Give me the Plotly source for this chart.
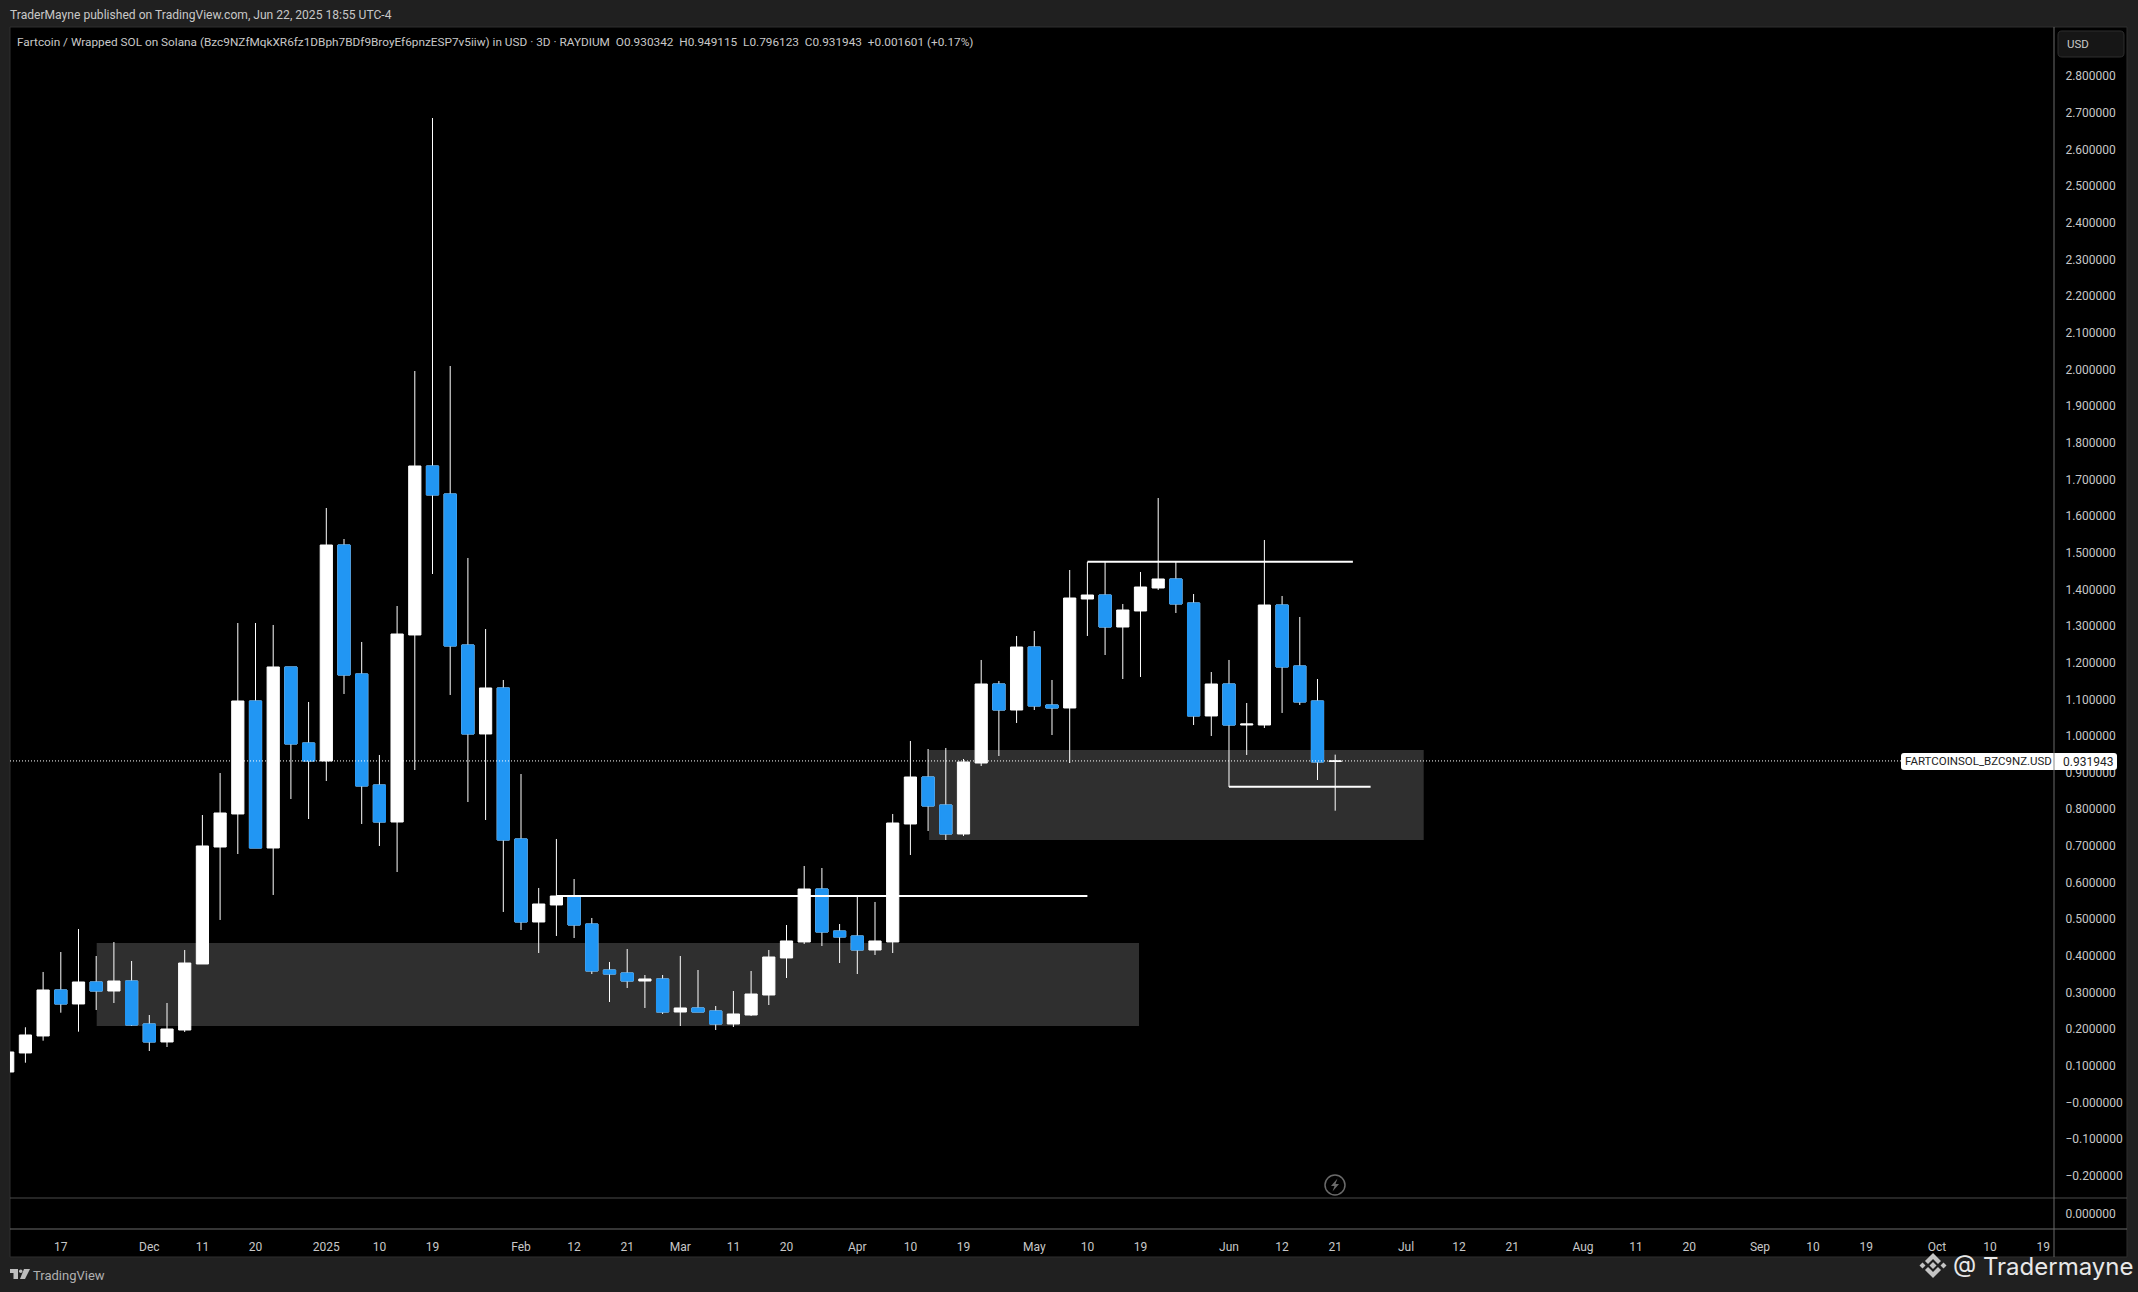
import plotly.graph_objects as go
import pandas as pd

# bars are 3D, first one is cut by the left edge of the pane
dates = pd.date_range("2024-11-08", periods=76, freq="3D")

opens = [0.0832, 0.1351, 0.1815, 0.3070, 0.2688, 0.3288, 0.3042, 0.3315, 0.2142, 0.1651, 0.1978, 0.3779,
         0.6971, 0.7872, 1.0955, 0.6944, 1.1883, 0.9809, 0.9318, 1.5211, 1.1692, 0.8663, 0.7653, 1.2756,
         1.7367, 1.6603, 1.2483, 1.0055, 1.1310, 0.7190, 0.4925, 0.5389, 0.5634, 0.4870, 0.3615, 0.3533,
         0.3315, 0.3370, 0.2469, 0.2579, 0.2497, 0.2142, 0.2387, 0.2933, 0.3943, 0.4379, 0.5825, 0.4679,
         0.4543, 0.4161, 0.4379, 0.7599, 0.8881, 0.8117, 0.7326, 0.9263, 1.1419, 1.0709, 1.2428, 1.0846,
         1.0764, 1.3738, 1.3847, 1.2974, 1.3411, 1.4038, 1.4284, 1.3629, 1.0546, 1.1419, 1.0300, 1.0300,
         1.3574, 1.1910, 1.0955, 0.930342]
highs = [0.1378, 0.2052, 0.3561, 0.4106, 0.4734, 0.3997, 0.4379, 0.3861, 0.2387, 0.2715, 0.4161, 0.7844,
         0.8990, 1.3083, 1.3083, 1.3029, 1.1883, 1.0928, 1.6221, 1.5375, 1.2565, 0.9482, 1.3547, 1.9959,
         2.6862, 2.0095, 1.4857, 1.2919, 1.1528, 0.8963, 0.5853, 0.7190, 0.6098, 0.5034, 0.3834, 0.4188,
         0.3479, 0.3479, 0.3997, 0.3615, 0.2633, 0.3042, 0.3588, 0.4161, 0.4843, 0.6453, 0.6398, 0.4870,
         0.5607, 0.5471, 0.7872, 0.9864, 0.9645, 0.9673, 0.9372, 1.2074, 1.1501, 1.2729, 1.2865, 1.1528,
         1.4529, 1.4748, 1.4748, 1.3602, 1.4475, 1.6494, 1.4748, 1.3874, 1.1746, 1.2074, 1.0900, 1.5348,
         1.3820, 1.3247, 1.1555, 0.949115]
lows = [0.0832, 0.1086, 0.1686, 0.2450, 0.1932, 0.2524, 0.2715, 0.2087, 0.1405, 0.1514, 0.1924, 0.3779,
        0.4980, 0.6780, 0.6944, 0.5662, 0.8281, 0.7735, 0.8772, 1.1146, 0.7599, 0.6999, 0.6289, 0.9072,
        1.4420, 1.1119, 0.8199, 0.7708, 0.5198, 0.4707, 0.4079, 0.4543, 0.4488, 0.3506, 0.2742, 0.3124,
        0.2579, 0.2415, 0.2087, 0.2469, 0.1978, 0.2060, 0.2360, 0.2660, 0.3397, 0.4325, 0.4270, 0.3806,
        0.3506, 0.4025, 0.4079, 0.6753, 0.7408, 0.7162, 0.7272, 0.9181, 0.9454, 1.0355, 1.0709, 1.0027,
        0.9263, 1.2729, 1.2210, 1.1555, 1.1610, 1.3984, 1.3356, 1.0300, 1.0000, 0.8608, 0.9482, 1.0218,
        1.0628, 1.0846, 0.8799, 0.796123]
closes = [0.1378, 0.1842, 0.3070, 0.2688, 0.3288, 0.3042, 0.3315, 0.2115, 0.1651, 0.2005, 0.3806, 0.6999,
          0.7899, 1.0955, 0.6944, 1.1883, 0.9782, 0.9318, 1.5211, 1.1664, 0.8636, 0.7653, 1.2783, 1.7367,
          1.6576, 1.2456, 1.0055, 1.1310, 0.7162, 0.4925, 0.5416, 0.5634, 0.4843, 0.3588, 0.3506, 0.3315,
          0.3370, 0.2469, 0.2579, 0.2469, 0.2142, 0.2415, 0.2960, 0.3970, 0.4407, 0.5825, 0.4652, 0.4516,
          0.4161, 0.4407, 0.7626, 0.8881, 0.8090, 0.7326, 0.9291, 1.1419, 1.0709, 1.2428, 1.0819, 1.0764,
          1.3765, 1.3847, 1.2974, 1.3438, 1.4065, 1.4284, 1.3602, 1.0546, 1.1419, 1.0300, 1.0327, 1.3574,
          1.1883, 1.0928, 0.9291, 0.931943]

price_ticks = [2.8, 2.7, 2.6, 2.5, 2.4, 2.3, 2.2, 2.1, 2.0, 1.9, 1.8, 1.7, 1.6, 1.5, 1.4, 1.3, 1.2, 1.1, 1.0,
               0.9, 0.8, 0.7, 0.6, 0.5, 0.4, 0.3, 0.2, 0.1, 0.0, -0.1, -0.2]
price_labels = ["2.800000", "2.700000", "2.600000", "2.500000", "2.400000", "2.300000", "2.200000", "2.100000",
                "2.000000", "1.900000", "1.800000", "1.700000", "1.600000", "1.500000", "1.400000", "1.300000",
                "1.200000", "1.100000", "1.000000", "0.900000", "0.800000", "0.700000", "0.600000", "0.500000",
                "0.400000", "0.300000", "0.200000", "0.100000", "\u22120.000000", "\u22120.100000", "\u22120.200000"]

time_ticks = ["2024-11-17", "2024-12-02", "2024-12-11", "2024-12-20", "2025-01-01", "2025-01-10", "2025-01-19",
              "2025-02-03", "2025-02-12", "2025-02-21", "2025-03-02", "2025-03-11", "2025-03-20", "2025-04-01",
              "2025-04-10", "2025-04-19", "2025-05-01", "2025-05-10", "2025-05-19", "2025-06-03", "2025-06-12",
              "2025-06-21", "2025-07-03", "2025-07-12", "2025-07-21", "2025-08-02", "2025-08-11", "2025-08-20",
              "2025-09-01", "2025-09-10", "2025-09-19", "2025-10-01", "2025-10-10", "2025-10-19"]
time_labels = ["17", "Dec", "11", "20", "2025", "10", "19", "Feb", "12", "21", "Mar", "11", "20", "Apr", "10", "19",
               "May", "10", "19", "Jun", "12", "21", "Jul", "12", "21", "Aug", "11", "20", "Sep", "10", "19", "Oct",
               "10", "19"]

# supply/demand boxes drawn on the chart: start, end, top, bottom
zone_starts = ["2024-11-23 02:00", "2025-04-13 04:00"]
zone_ends = ["2025-05-18 18:00", "2025-07-06"]
zone_tops = [0.4352, 0.9618]
zone_bottoms = [0.2087, 0.7162]

# white levels: start, end, price
level_starts = ["2025-02-09", "2025-05-10", "2025-06-03"]
level_ends = ["2025-05-10", "2025-06-24", "2025-06-27"]
level_prices = [0.5634, 1.4755, 0.8617]

last_price = 0.931943

W, H = 2138, 1292
BLUE = "#2196f3"
PAPER = "#202020"
TEXT = "#c8c8c8"
FONT = "Roboto"


def fx(px):
    return px / W


def fy(py):
    return 1 - py / H


def poly(points):
    # closed polygon in screen pixels -> paper path
    parts = [f"{fx(x):.5f} {fy(y):.5f}" for x, y in points]
    return "M " + " L ".join(parts) + " Z"


def round_box(x0, y0, x1, y1, r):
    return (f"M {fx(x0 + r):.5f} {fy(y0):.5f} L {fx(x1 - r):.5f} {fy(y0):.5f} "
            f"Q {fx(x1):.5f} {fy(y0):.5f} {fx(x1):.5f} {fy(y0 + r):.5f} L {fx(x1):.5f} {fy(y1 - r):.5f} "
            f"Q {fx(x1):.5f} {fy(y1):.5f} {fx(x1 - r):.5f} {fy(y1):.5f} L {fx(x0 + r):.5f} {fy(y1):.5f} "
            f"Q {fx(x0):.5f} {fy(y1):.5f} {fx(x0):.5f} {fy(y1 - r):.5f} L {fx(x0):.5f} {fy(y0 + r):.5f} "
            f"Q {fx(x0):.5f} {fy(y0):.5f} {fx(x0 + r):.5f} {fy(y0):.5f} Z")


def paper_line(x0, y0, x1, y1, color, width=1):
    return dict(type="line", xref="paper", yref="paper", x0=fx(x0), y0=fy(y0), x1=fx(x1), y1=fy(y1),
                line=dict(color=color, width=width))


def paper_path(path, fill, line_color=None, layer="above"):
    return dict(type="path", xref="paper", yref="paper", path=path, fillcolor=fill, layer=layer,
                line=dict(color=line_color or "rgba(0,0,0,0)", width=1))


def label(x, y, text, size=12, color=TEXT, anchor="left", font=FONT):
    return dict(xref="paper", yref="paper", x=fx(x), y=fy(y), text=text, showarrow=False, xanchor=anchor,
                yanchor="middle", font=dict(family=font, size=size, color=color), borderpad=0, borderwidth=0)


fig = go.Figure()

# all candles in white first (wicks stay white), then the blue bodies of the down bars on top
fig.add_trace(go.Candlestick(
    x=dates, open=opens, high=highs, low=lows, close=closes, whiskerwidth=0,
    increasing=dict(line=dict(color="#ffffff", width=1), fillcolor="#ffffff"),
    decreasing=dict(line=dict(color="#ffffff", width=1), fillcolor="#ffffff"),
    hoverinfo="skip", showlegend=False))

down = [i for i in range(len(dates)) if closes[i] < opens[i]]
fig.add_trace(go.Candlestick(
    x=[dates[i] for i in down],
    open=[opens[i] for i in down], high=[opens[i] for i in down],
    low=[closes[i] for i in down], close=[closes[i] for i in down], whiskerwidth=0,
    increasing=dict(line=dict(color=BLUE, width=1), fillcolor=BLUE),
    decreasing=dict(line=dict(color=BLUE, width=1), fillcolor=BLUE),
    hoverinfo="skip", showlegend=False))

for x0, x1, p in zip(level_starts, level_ends, level_prices):
    fig.add_trace(go.Scatter(x=[x0, x1], y=[p, p], mode="lines", line=dict(color="#ffffff", width=2),
                             hoverinfo="skip", showlegend=False))

# empty lower pane, only carries its own price scale
fig.add_trace(go.Scatter(x=[dates[0]], y=[0], yaxis="y2", mode="lines", hoverinfo="skip", showlegend=False))

shapes = [
    paper_path(poly([(10, 27), (2127, 27), (2127, 1257), (10, 1257)]), "#000000", "#2e2e2e", layer="below"),
]
for x0, x1, top, bottom in zip(zone_starts, zone_ends, zone_tops, zone_bottoms):
    shapes.append(dict(type="rect", xref="x", yref="y", x0=x0, x1=x1, y0=bottom, y1=top, layer="below",
                       fillcolor="#2f2f2f", line=dict(width=0)))

shapes += [
    dict(type="line", xref="paper", yref="y", x0=fx(10), x1=fx(1902), y0=last_price, y1=last_price,
         line=dict(color="#ffffff", width=1, dash="1px,2px")),
    paper_line(10, 1198, 2127, 1198, "#4a4a4a"),
    paper_line(10, 1229, 2127, 1229, "#6a6a6a"),
    paper_line(2054, 27, 2054, 1257, "#6a6a6a"),
    paper_path(round_box(1901, 753, 2117, 770, 3), "#ffffff"),
    paper_line(2054, 753, 2054, 770, "#8a8a8a"),
    paper_path(round_box(2058, 31, 2124, 57, 4), "#161616", "#2e2e2e"),
    # lightning mark
    dict(type="circle", xref="paper", yref="paper", x0=fx(1325), x1=fx(1345), y0=fy(1195), y1=fy(1175),
         line=dict(color="#6a6a6a", width=1.5)),
    paper_path(poly([(1337.5, 1178.5), (1331, 1186), (1334.5, 1186), (1332.5, 1191.5), (1339, 1184),
                     (1335.5, 1184)]), "#6a6a6a"),
    # TradingView logo
    paper_path(poly([(10, 1269), (18, 1269), (18, 1279), (13.5, 1279), (13.5, 1273), (10, 1273)]), "#bdbdbd"),
    dict(type="circle", xref="paper", yref="paper", x0=fx(19), x1=fx(22.5), y0=fy(1273), y1=fy(1269.5),
         fillcolor="#bdbdbd", line=dict(width=0)),
    paper_path(poly([(24, 1269), (30, 1269), (25, 1279), (20, 1279)]), "#bdbdbd"),
    # Binance mark next to the watermark
    paper_path(poly([(1933, 1253), (1941, 1261), (1938, 1264), (1933, 1259), (1928, 1264), (1925, 1261)]), "#c4c4c4"),
    paper_path(poly([(1933, 1278), (1941, 1270), (1938, 1267), (1933, 1272), (1928, 1267), (1925, 1270)]), "#c4c4c4"),
    paper_path(poly([(1933, 1262), (1936.5, 1265.5), (1933, 1269), (1929.5, 1265.5)]), "#c4c4c4"),
    paper_path(poly([(1922.5, 1262.5), (1925.5, 1265.5), (1922.5, 1268.5), (1919.5, 1265.5)]), "#c4c4c4"),
    paper_path(poly([(1943.5, 1262.5), (1946.5, 1265.5), (1943.5, 1268.5), (1940.5, 1265.5)]), "#c4c4c4"),
]

annotations = [
    label(10, 15, "TraderMayne published on TradingView.com, Jun 22, 2025 18:55 UTC-4", 12.1),
    label(17, 42, "Fartcoin / Wrapped SOL on Solana (Bzc9NZfMqkXR6fz1DBph7BDf9BroyEf6pnzESP7v5iiw) in USD \u00b7 3D \u00b7 "
                  "RAYDIUM&nbsp;&nbsp;O0.930342&nbsp;&nbsp;H0.949115&nbsp;&nbsp;L0.796123&nbsp;&nbsp;C0.931943&nbsp;&nbsp;"
                  "+0.001601 (+0.17%)", 11.8),
    label(2067, 44, "USD", 11.5),
    label(1905, 761, "FARTCOINSOL_BZC9NZ.USD", 11.5, color="#222222"),
    label(2063, 761.5, "0.931943", 12, color="#222222"),
    label(33, 1275, "TradingView", 13, color="#b0b0b0"),
    label(1953, 1266, "@ Tradermayne", 24, color="#e8e8e8", font="Inter"),
]

fig.update_layout(
    width=W, height=H, autosize=False,
    margin=dict(l=0, r=0, t=0, b=0, pad=0),
    paper_bgcolor=PAPER, plot_bgcolor="rgba(0,0,0,0)",
    font=dict(family=FONT, size=12, color=TEXT),
    boxmode="overlay", boxgap=0.31, boxgroupgap=0, showlegend=False,
    shapes=shapes, annotations=annotations,
    xaxis=dict(
        type="date", domain=[fx(10), fx(2054)], anchor="y2",
        range=["2024-11-08 09:20", "2025-10-20 20:00"],
        tickvals=time_ticks, ticktext=time_labels, tickangle=0,
        showgrid=False, zeroline=False, showline=False, rangeslider=dict(visible=False),
        ticks="outside", ticklen=7, tickcolor="rgba(0,0,0,0)", tickfont=dict(family=FONT, size=12, color=TEXT),
    ),
    yaxis=dict(
        domain=[fy(1198), fy(27)], side="right", anchor="x",
        range=[-0.2606, 2.9345], tickvals=price_ticks, ticktext=price_labels,
        showgrid=False, zeroline=False, showline=False,
        ticks="outside", ticklen=8, tickcolor="rgba(0,0,0,0)", tickfont=dict(family=FONT, size=12, color=TEXT),
    ),
    yaxis2=dict(
        domain=[fy(1229), fy(1198)], side="right", anchor="x",
        range=[-1, 1], tickvals=[0], ticktext=["0.000000"],
        showgrid=False, zeroline=False, showline=False,
        ticks="outside", ticklen=8, tickcolor="rgba(0,0,0,0)", tickfont=dict(family=FONT, size=12, color=TEXT),
    ),
)

fig.write_html("out.html", config=dict(displayModeBar=False),
               post_script="document.body.style.margin='0';document.body.style.overflow='hidden';")
